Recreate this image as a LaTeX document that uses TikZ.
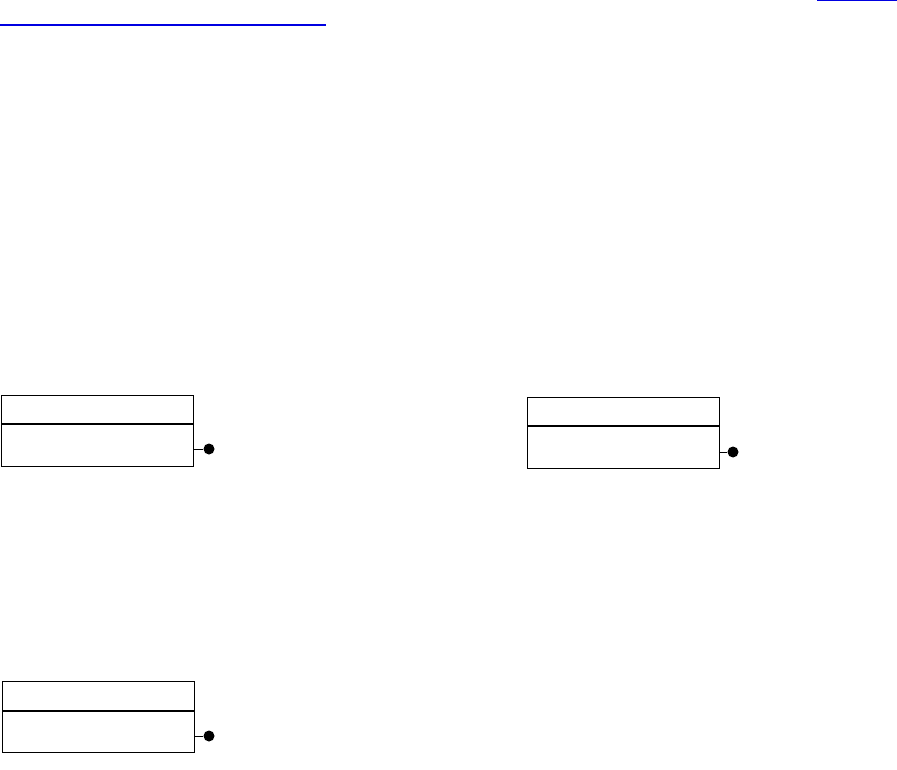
\documentclass[tikz,border=0pt]{standalone}
\usepackage{tikz}
\usetikzlibrary{positioning}
\usepackage{xcolor}
\definecolor{linkblue}{RGB}{0,0,225}

\begin{document}
\begin{tikzpicture}[x=1pt, y=-1pt,
		kopf/.style={draw, line width=1pt, minimum width=192pt, minimum height=29pt, inner sep=0pt, outer sep=0pt},
		rumpf/.style={draw, line width=1pt, minimum width=192pt, minimum height=42pt, inner sep=0pt, outer sep=0pt},
		punkt/.style={circle, fill=black, minimum size=11pt, inner sep=0pt},
		teiler/.style={line width=2pt}]
		\useasboundingbox (0,0) rectangle (897,770);
		% Link-Unterstreichungen
		\draw[linkblue, line width=1.2pt] (0,25) -- (326,25);
		\draw[linkblue, line width=1.2pt] (817,0.6) -- (897,0.6);
		% Klassen
		\node[kopf] (k1h) at (97.5,409.5) {};
		\node[rumpf, below=0pt of k1h] (k1b) {};
		\node[kopf] (k2h) at (623,411.5) {};
		\node[rumpf, below=0pt of k2h] (k2b) {};
		\node[kopf] (k3h) at (98.5,696) {};
		\node[rumpf, below=0pt of k3h] (k3b) {};
		\foreach \k in {k1,k2,k3}
			\draw[teiler] (\k h.south west) -- (\k h.south east);
		% Anschluesse
		\node[punkt] (p1) at (209,449) {};
		\node[punkt] (p2) at (733,452) {};
		\node[punkt] (p3) at (209,736) {};
		\draw (k1b.east |- p1) -- (p1);
		\draw (k2b.east |- p2) -- (p2);
		\draw (k3b.east |- p3) -- (p3);
	\end{tikzpicture}
\end{document}
